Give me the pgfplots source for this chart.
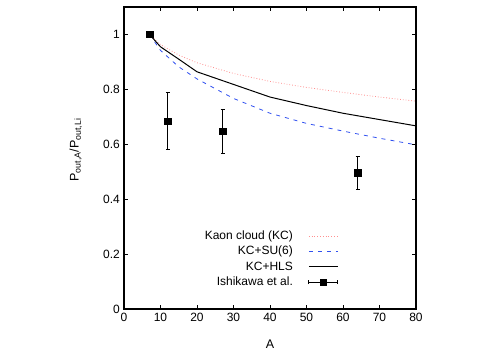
\documentclass[border=0pt]{standalone}
\usepackage{fontspec}
\setmainfont{Liberation Sans}
\usepackage{pgfplots}
\pgfplotsset{compat=1.18}
\definecolor{kcpink}{HTML}{FF9090}
\definecolor{kcblue}{HTML}{3050F0}

\begin{document}
\fontsize{12bp}{14bp}\selectfont
\begin{tikzpicture}
\path[use as bounding box] (0,0) rectangle (499bp,353bp);
\begin{axis}[
  at={(124bp,44bp)}, anchor=south west,
  scale only axis,
  width=292bp, height=302bp,
  xmin=0, xmax=80, ymin=0, ymax=1.1,
  xtick={0,10,...,80},
  ytick={0,0.2,0.4,0.6,0.8,1},
  tick align=inside, tick pos=both,
  major tick length=4bp,
  axis line style={line width=1.1bp},
  tick style={line width=0.6bp, black},
  /pgf/number format/assume math mode=true,
  ticklabel style={font=\fontsize{12bp}{14bp}\selectfont},
  xlabel={A},
  ylabel={P\textsubscript{out,A}/P\textsubscript{out,Li}},
  label style={font=\fontsize{12.5bp}{14bp}\selectfont},
  xlabel style={yshift=-10bp},
  ylabel style={at={(axis description cs:-0.165,0.527)}, anchor=center},
  legend cell align=right,
  legend plot pos=right,
  legend style={draw=none, fill=none, at={(axis cs:59.6,0.182)}, anchor=east,
    font=\fontsize{12bp}{14bp}\selectfont, row sep=1bp},
]
%--- Kaon cloud
\addplot[color=kcpink, line width=0.8bp, dotted,
  legend image code/.code={\path[draw=none,fill=none] (0bp,-1bp) rectangle (43bp,1bp);
    \draw[kcpink, line width=0.8bp, dotted] (14bp,0bp) -- (43bp,0bp);}]
  coordinates {
  (7,1.0) (10,0.963) (15,0.925) (20,0.897) (30,0.858) (40,0.829)
  (50,0.807) (60,0.789) (70,0.772) (80,0.757)
};
\addlegendentry{Kaon cloud (KC)}
%--- KC+SU(6)
\addplot[color=kcblue, line width=0.8bp, dash pattern=on 4bp off 5bp,
  legend image code/.code={\path[draw=none,fill=none] (0bp,-1bp) rectangle (43bp,1bp);
    \draw[kcblue, line width=0.8bp, dash pattern=on 4bp off 5bp] (14bp,0bp) -- (43bp,0bp);}]
  coordinates {
  (7,1.0) (10,0.942) (15,0.882) (20,0.838) (30,0.767) (40,0.713)
  (50,0.676) (60,0.648) (70,0.622) (80,0.598)
};
\addlegendentry{KC+SU(6)}
%--- KC+HLS
\addplot[color=black, line width=1bp,
  legend image code/.code={\path[draw=none,fill=none] (0bp,-1bp) rectangle (43bp,1bp);
    \draw[black, line width=1bp] (14bp,0bp) -- (43bp,0bp);}]
  coordinates {
  (7,1.0) (10,0.955) (15,0.91) (20,0.864) (30,0.818) (40,0.772)
  (50,0.741) (60,0.713) (70,0.69) (80,0.667)
};
\addlegendentry{KC+HLS}
%--- Ishikawa et al.
\addplot[color=black, only marks, mark=square*, mark size=3.2bp,
  legend image code/.code={
    \path[draw=none,fill=none] (0bp,-1bp) rectangle (43bp,1bp);
    \draw[black, line width=1bp] (14bp,0bp) -- (43bp,0bp);
    \draw[black, line width=0.8bp] (14bp,-2bp) -- (14bp,2bp);
    \draw[black, line width=0.8bp] (43bp,-2bp) -- (43bp,2bp);
    \fill[black] (25.3bp,-3.2bp) rectangle (31.7bp,3.2bp);},
  error bars/.cd, y dir=both, y explicit,
  error bar style={line width=1bp},
  error mark options={rotate=90, mark size=2bp, line width=0.8bp}]
  coordinates {
  (7,1.0) +- (0,0)
  (12,0.685) +- (0,0.105)
  (27,0.648) +- (0,0.08)
  (64,0.497) +- (0,0.06)
};
\addlegendentry{Ishikawa et al.}
\end{axis}
\end{tikzpicture}
\end{document}
